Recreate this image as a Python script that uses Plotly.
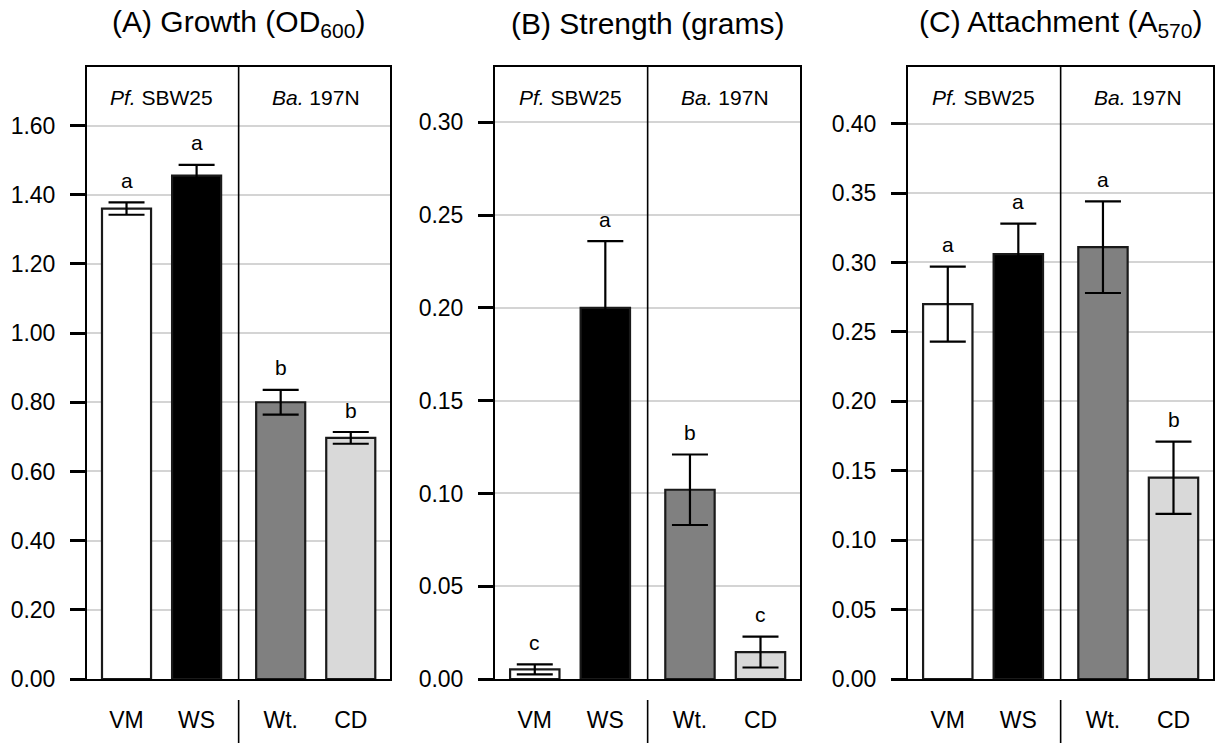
import plotly.graph_objects as go

# ---------------- data ----------------
categories = ["VM", "WS", "Wt.", "CD"]
group_labels = ["<i>Pf.</i> SBW25", "<i>Ba.</i> 197N"]

growth_mean = [1.360, 1.455, 0.800, 0.697]
growth_err = [0.018, 0.031, 0.036, 0.017]
growth_letters = ["a", "a", "b", "b"]

strength_mean = [0.0052, 0.200, 0.102, 0.0145]
strength_err = [0.0027, 0.036, 0.019, 0.0083]
strength_letters = ["c", "a", "b", "c"]

attach_mean = [0.270, 0.306, 0.311, 0.145]
attach_err = [0.027, 0.022, 0.033, 0.026]
attach_letters = ["a", "a", "a", "b"]

titles = ["(A) Growth (OD<sub>600</sub>)", "(B) Strength (grams)", "(C) Attachment (A<sub>570</sub>)"]
y_ticks = [
    [0.0, 0.2, 0.4, 0.6, 0.8, 1.0, 1.2, 1.4, 1.6],
    [0.0, 0.05, 0.10, 0.15, 0.20, 0.25, 0.30],
    [0.0, 0.05, 0.10, 0.15, 0.20, 0.25, 0.30, 0.35, 0.40],
]
y_max = [1.77, 0.33, 0.441]

# ---------------- layout constants ----------------
W, H = 1223, 746
x_pos = [0, 1, 2.2, 3.2]
divider_x = 1.6
group_x = [0.5, 2.7]
x_range = [-0.564, 3.76]
bar_colors = ["#ffffff", "#000000", "#808080", "#d9d9d9"]
panel_px = [(87, 390), (495, 800), (908, 1213)]
top_px, bottom_px = 66.7, 679
FONT = "Liberation Sans, Arial, Helvetica, sans-serif"

means = [growth_mean, strength_mean, attach_mean]
errs = [growth_err, strength_err, attach_err]
letters = [growth_letters, strength_letters, attach_letters]

fig = go.Figure()
annotations = []
shapes = []
ydom = [(H - bottom_px) / H, (H - top_px) / H]

for i in range(3):
    sfx = "" if i == 0 else str(i + 1)
    xa, ya = "x" + sfx, "y" + sfx
    fig.add_trace(go.Bar(
        x=x_pos, y=means[i], width=0.7,
        marker=dict(color=bar_colors, line=dict(color="#1a1a1a", width=2.2)),
        error_y=dict(type="data", array=errs[i], visible=True,
                     color="black", thickness=2.2, width=18),
        xaxis=xa, yaxis=ya, showlegend=False, hoverinfo="skip",
    ))
    x0, x1 = panel_px[i]
    dom = [x0 / W, x1 / W]
    xaxis = dict(domain=dom, range=x_range, anchor=ya, showgrid=False, zeroline=False,
                 showline=True, linecolor="black", linewidth=2, mirror=True,
                 tickvals=x_pos, ticktext=categories, ticks="",
                 ticklabelstandoff=19, automargin=False,
                 tickfont=dict(family=FONT, size=23, color="black"), fixedrange=True)
    yaxis = dict(domain=ydom, range=[0, y_max[i]], anchor=xa, showgrid=True,
                 gridcolor="#d4d4d4", gridwidth=2, zeroline=False,
                 showline=True, linecolor="black", linewidth=2, mirror=True,
                 tickvals=y_ticks[i], tickformat=".2f", ticks="outside",
                 ticklen=15, tickwidth=3, tickcolor="black", ticklabelstandoff=10,
                 automargin=False,
                 tickfont=dict(family=FONT, size=23, color="black"), fixedrange=True)
    fig.layout["xaxis" + sfx] = xaxis
    fig.layout["yaxis" + sfx] = yaxis

    # divider inside plot
    shapes.append(dict(type="line", xref=xa, yref=ya + " domain", x0=divider_x, x1=divider_x,
                       y0=0, y1=1, line=dict(color="black", width=1.6)))
    # separator below axis
    shapes.append(dict(type="line", xref=xa, yref="paper", x0=divider_x, x1=divider_x,
                       y0=(H - 700) / H, y1=(H - 743) / H, line=dict(color="black", width=1.6)))
    # group labels
    for gx, gl in zip(group_x, group_labels):
        annotations.append(dict(x=gx, y=0.949, xref=xa, yref=ya + " domain", text=gl,
                                showarrow=False, xanchor="center", yanchor="middle",
                                font=dict(family=FONT, size=21, color="black")))
    # significance letters
    for xp, m, e, l in zip(x_pos, means[i], errs[i], letters[i]):
        annotations.append(dict(x=xp, y=m + e, xref=xa, yref=ya, text=l, showarrow=False,
                                xanchor="center", yanchor="middle", yshift=22,
                                font=dict(family=FONT, size=21, color="black")))
    # panel title
    annotations.append(dict(x=0.5, y=(H - 23) / H, xref=xa + " domain", yref="paper",
                            text=titles[i], showarrow=False, xanchor="center", yanchor="middle",
                            font=dict(family=FONT, size=30, color="black")))

fig.update_layout(
    width=W, height=H, margin=dict(l=0, r=0, t=0, b=0, autoexpand=False),
    paper_bgcolor="white", plot_bgcolor="white",
    annotations=annotations, shapes=shapes, bargap=0,
)

fig.write_html(
    "out.html",
    config={"displayModeBar": False, "staticPlot": True},
    post_script="document.body.style.margin='0';",
)
